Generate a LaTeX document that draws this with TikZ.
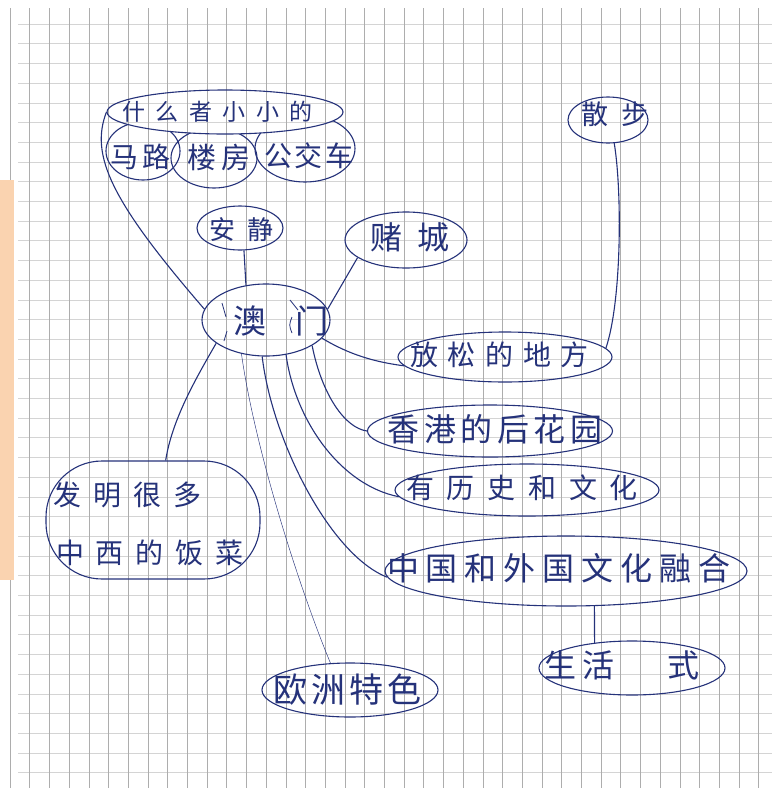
\documentclass[tikz,border=0pt]{standalone}
\usepackage{fontspec}
\newfontfamily\cjk{Noto Sans CJK SC}
\usetikzlibrary{shapes.geometric}
\definecolor{ink}{HTML}{25327A}
\definecolor{peach}{HTML}{FAD3B0}
\newcommand\T[3]{\makebox[0pt]{\kern#1\kern#1\smash{\lower#2\hbox{#3}}}\vphantom{国}}
\newcommand\fs[1]{\cjk\fontsize{#1}{#1}\selectfont}
\tikzset{
  bub/.style={ellipse, draw=ink, line width=1.1pt, inner sep=0pt, text=ink},
  blob/.style={rectangle, rounded corners=56pt, draw=ink, line width=1.1pt, inner sep=0pt, text=ink},
  con/.style={draw=ink, line width=1.1pt},
  thincon/.style={draw=ink, line width=0.45pt},
  hgrid/.style={draw=black!17, line width=0.6pt},
  vgrid/.style={draw=black!32, line width=0.6pt},
}
\begin{document}
\begin{tikzpicture}[x=1pt,y=-1pt]
\useasboundingbox (0,0) rectangle (772,788);
\fill[white] (0,0) rectangle (772,788);
% grid paper
\foreach \k in {0,...,38} { \draw[hgrid] (18,{24+19.7*\k}) -- (772,{24+19.7*\k}); }
\foreach \k in {0,...,38} { \draw[vgrid] ({10+19.7*\k},8) -- ({10+19.7*\k},788); }
\fill[peach] (0,180) rectangle (14,580);

% lower blobs of the top group, hidden inside the top ellipse
\begin{scope}
\clip plot[domain=0:180,samples=60] ({225+118*cos(\x)},{112+22*sin(\x)}) -- (80,112) -- (80,215) -- (380,215) -- (380,112) -- cycle;
\node[bub, minimum width=74pt, minimum height=58pt, font=\fs{28}] (malu) at (143,151) {\T{-2.5pt}{6pt}{马\kern5pt 路}};
\node[bub, minimum width=86pt, minimum height=60pt, font=\fs{29}] (loufang) at (214,158) {\T{5pt}{0pt}{楼\kern5.5pt 房}};
\node[bub, minimum width=100pt, minimum height=67pt, font=\fs{28}] (gongjiao) at (305,148.5) {\T{4pt}{8pt}{公\kern3pt 交\kern3pt 车}};
\end{scope}
\node[bub, minimum width=236pt, minimum height=44pt, font=\fs{23}] (top) at (225,112)
  {\T{-7.5pt}{0pt}{什\kern10.4pt 么\kern10.4pt 者\kern10.4pt 小\kern10.4pt 小\kern10.4pt 的}};

\node[bub, minimum width=86pt, minimum height=44pt, font=\fs{26}] (anjing) at (240,228) {\T{1.5pt}{2pt}{安\kern12pt 静}};
\node[bub, minimum width=122pt, minimum height=56pt, font=\fs{32}] (ducheng) at (406,240) {\T{4pt}{-1.5pt}{赌\kern15pt 城}};
\node[bub, minimum width=128pt, minimum height=72pt, font=\fs{33}] (aomen) at (266,320) {\T{15pt}{2pt}{澳\kern29pt 门}};
\node[bub, minimum width=80pt, minimum height=46pt, font=\fs{27}] (sanbu) at (608,120) {\T{6.75pt}{-5pt}{散\kern13.5pt 步}};
\node[bub, minimum width=214pt, minimum height=50pt, font=\fs{28}] (fangsong) at (505,357)
  {\T{-5.5pt}{-2pt}{放\kern9.75pt 松\kern9.75pt 的\kern9.75pt 地\kern9.75pt 方}};
\node[bub, minimum width=245pt, minimum height=52pt, font=\fs{32}] (xianggang) at (490,431)
  {\T{5pt}{-1pt}{香\kern4.5pt 港\kern4.5pt 的\kern4.5pt 后\kern4.5pt 花\kern4.5pt 园}};
\node[bub, minimum width=264pt, minimum height=52pt, font=\fs{28}] (lishi) at (527,490)
  {\T{-5pt}{-1.5pt}{有\kern12.7pt 历\kern12.7pt 史\kern12.7pt 和\kern12.7pt 文\kern12.7pt 化}};
\node[bub, minimum width=362pt, minimum height=70pt, font=\fs{32}] (ronghe) at (566,571)
  {\T{-7pt}{-1.5pt}{中\kern7pt 国\kern7pt 和\kern7pt 外\kern7pt 国\kern7pt 文\kern7pt 化\kern7pt 融\kern7pt 合}};
\node[bub, minimum width=186pt, minimum height=54pt, font=\fs{32}] (shenghuo) at (632,668) {\T{-10pt}{-2pt}{生\kern6.5pt 活\kern53pt 式}};
\node[bub, minimum width=176pt, minimum height=54pt, font=\fs{34}] (ouzhou) at (350,690)
  {\T{-2.5pt}{0pt}{欧\kern4.3pt 洲\kern4.3pt 特\kern4.3pt 色}};
\node[blob, minimum width=214pt, minimum height=118pt, font=\fs{28}] (fanchai) at (153,520)
  {\T{-25.5pt}{-25pt}{发\kern11.7pt 明\kern11.7pt 很\kern11.7pt 多}\T{-3pt}{33pt}{中\kern12pt 西\kern12pt 的\kern12pt 饭\kern12pt 菜}};

% emphasis strokes inside 澳门
\draw[con, line width=0.8pt] (222,303) -- (226,317);
\draw[con, line width=0.8pt] (227,331) -- (224,341);
\draw[con, line width=0.8pt] (290,300) -- (298,310);
\draw[con, line width=0.8pt] (292,317) .. controls (289,325) .. (292,333);

% connectors
\draw[con] (top.west) .. controls (90,155) and (110,200) .. (aomen.170);
\draw[con] (anjing.-80) -- (aomen.120);
\draw[con] (ducheng.200) -- (aomen.10);
\draw[con] (sanbu.-75) .. controls (622,190) and (622,300) .. (fangsong.5);
\draw[con] (aomen.-18) .. controls (350,355) and (375,362) .. (fangsong.185);
\draw[con] (aomen.-29) .. controls (322,395) and (345,428) .. (xianggang.west);
\draw[con] (aomen.-60) .. controls (295,420) and (340,485) .. (lishi.183);
\draw[con] (aomen.-96) .. controls (272,440) and (330,555) .. (ronghe.182);
\draw[thincon] (aomen.-126) .. controls (255,450) and (300,590) .. (ouzhou.126);
\draw[con] (aomen.-155) .. controls (195,380) and (172,420) .. (fanchai.78);
\draw[con] (ronghe.-51) -- (shenghuo.146);
\end{tikzpicture}
\end{document}
